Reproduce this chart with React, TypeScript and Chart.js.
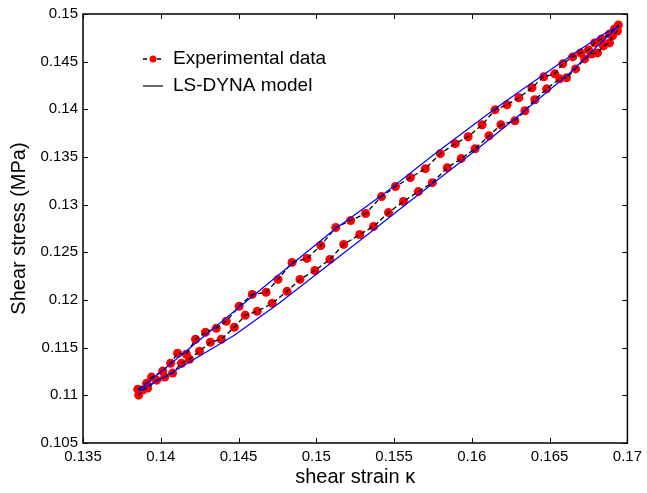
import React, { useEffect, useRef } from "react";
import { Chart, registerables } from "chart.js";

Chart.register(...registerables);

// ---- data ----
const upperStrain = [0.13852, 0.13909, 0.13941, 0.14012, 0.14063, 0.14108, 0.14165, 0.14223, 0.14287, 0.14357, 0.14421, 0.14504, 0.14588, 0.14677, 0.14754, 0.14844, 0.1494, 0.15029, 0.15125, 0.15221, 0.15317, 0.15419, 0.15509, 0.15605, 0.15701, 0.15797, 0.15893, 0.15976, 0.16066, 0.16149, 0.16226, 0.16302, 0.16386, 0.16462, 0.16533, 0.16584, 0.16648, 0.16699, 0.1675, 0.16789, 0.16833, 0.16885, 0.16917, 0.16942];
const upperStress = [0.11065, 0.11128, 0.11191, 0.11254, 0.11337, 0.11442, 0.11431, 0.11588, 0.11662, 0.11704, 0.11777, 0.11934, 0.12059, 0.1208, 0.12216, 0.12394, 0.12436, 0.12572, 0.1276, 0.12834, 0.12907, 0.13085, 0.1319, 0.13284, 0.13378, 0.13535, 0.1364, 0.13713, 0.13838, 0.13995, 0.14048, 0.14121, 0.14226, 0.14341, 0.14372, 0.14477, 0.1455, 0.14592, 0.14623, 0.14697, 0.14738, 0.14791, 0.14843, 0.14885];
const lowerStrain = [0.16936, 0.16904, 0.16885, 0.16846, 0.16808, 0.16769, 0.16725, 0.16667, 0.16609, 0.16565, 0.16481, 0.16405, 0.16341, 0.16277, 0.16187, 0.1611, 0.16021, 0.15931, 0.15842, 0.15746, 0.15656, 0.1556, 0.15464, 0.15368, 0.15279, 0.15176, 0.15087, 0.14991, 0.14895, 0.14812, 0.14716, 0.1462, 0.14543, 0.14473, 0.14389, 0.14319, 0.14249, 0.14185, 0.14133, 0.14076, 0.14025, 0.13973, 0.13916, 0.13884, 0.13858];
const lowerStress = [0.14822, 0.1477, 0.14697, 0.14665, 0.14592, 0.14581, 0.14529, 0.14424, 0.1433, 0.1432, 0.14215, 0.141, 0.13985, 0.1388, 0.13838, 0.13723, 0.13587, 0.13483, 0.13388, 0.13231, 0.13137, 0.13033, 0.12917, 0.12771, 0.12687, 0.12583, 0.12426, 0.1231, 0.12216, 0.12091, 0.11965, 0.11881, 0.1184, 0.11714, 0.11588, 0.11557, 0.11463, 0.11379, 0.11337, 0.11233, 0.11191, 0.11159, 0.11076, 0.11055, 0.11002];

const modelUpperStrain = [0.13858, 0.14185, 0.14543, 0.14824, 0.15125, 0.15419, 0.15771, 0.16149, 0.16405, 0.16661, 0.16859, 0.16936];
const modelUpperStress = [0.11055, 0.11494, 0.11976, 0.12352, 0.1275, 0.13095, 0.13545, 0.14006, 0.14299, 0.14592, 0.14801, 0.14864];
const modelLowerStrain = [0.16936, 0.16616, 0.16277, 0.16021, 0.15624, 0.15355, 0.15048, 0.1476, 0.14473, 0.14108, 0.13858];
const modelLowerStress = [0.14864, 0.14362, 0.13901, 0.13566, 0.13064, 0.12719, 0.12331, 0.11965, 0.1163, 0.11274, 0.11044];

const xTickValues = [0.135, 0.14, 0.145, 0.15, 0.155, 0.16, 0.165, 0.17];
const xTickLabels = ["0.135", "0.14", "0.145", "0.15", "0.155", "0.16", "0.165", "0.17"];
const yTickValues = [0.105, 0.11, 0.115, 0.12, 0.125, 0.13, 0.135, 0.14, 0.145, 0.15];
const yTickLabels = ["0.105", "0.11", "0.115", "0.12", "0.125", "0.13", "0.135", "0.14", "0.145", "0.15"];

const legendLabels = ["Experimental data", "LS-DYNA model"];
const xTitle = "shear strain \u03ba";
const yTitle = "Shear stress (MPa)";

const FONT = "'Liberation Sans', Arial, Helvetica, sans-serif";

const zip = (xs: number[], ys: number[]) => xs.map((x, i) => ({ x, y: ys[i] }));

const framePlugin = {
  id: "frameTicks",
  afterDraw(chart: any) {
    const { ctx, chartArea } = chart;
    const { left, right, top, bottom } = chartArea;
    const xs = chart.scales.x;
    const ys = chart.scales.y;
    ctx.save();
    ctx.strokeStyle = "#000";
    ctx.lineWidth = 1.5;
    ctx.strokeRect(left, top, right - left, bottom - top);
    ctx.lineWidth = 1;
    const tl = 5;
    ctx.beginPath();
    xTickValues.forEach((v) => {
      const p = Math.round(xs.getPixelForValue(v)) + 0.5;
      ctx.moveTo(p, bottom);
      ctx.lineTo(p, bottom - tl);
      ctx.moveTo(p, top);
      ctx.lineTo(p, top + tl);
    });
    yTickValues.forEach((v) => {
      const p = Math.round(ys.getPixelForValue(v)) + 0.5;
      ctx.moveTo(left, p);
      ctx.lineTo(left + tl, p);
      ctx.moveTo(right, p);
      ctx.lineTo(right - tl, p);
    });
    ctx.stroke();

    // legend
    const lx = left + 60;
    const tx = left + 90;
    const r1 = top + 45;
    const r2 = top + 72;
    ctx.strokeStyle = "#000";
    ctx.lineWidth = 1.3;
    ctx.setLineDash([4, 3]);
    ctx.beginPath();
    ctx.moveTo(lx, r1);
    ctx.lineTo(lx + 20, r1);
    ctx.stroke();
    ctx.setLineDash([]);
    ctx.fillStyle = "#ff0000";
    ctx.beginPath();
    ctx.arc(lx + 10, r1, 3.5, 0, Math.PI * 2);
    ctx.fill();
    ctx.strokeStyle = "#000";
    ctx.lineWidth = 1.2;
    ctx.beginPath();
    ctx.moveTo(lx, r2);
    ctx.lineTo(lx + 20, r2);
    ctx.stroke();
    ctx.fillStyle = "#000";
    ctx.font = `19px ${FONT}`;
    ctx.textAlign = "left";
    ctx.textBaseline = "middle";
    ctx.fillText(legendLabels[0], tx, r1);
    ctx.fillText(legendLabels[1], tx, r2);
    ctx.restore();
  },
};

export default function App() {
  const ref = useRef<HTMLCanvasElement | null>(null);
  useEffect(() => {
    if (!ref.current) return;
    const chart = new Chart(ref.current, {
      type: "scatter",
      data: {
        datasets: [
          {
            label: legendLabels[1],
            data: [...zip(modelUpperStrain, modelUpperStress), ...zip(modelLowerStrain, modelLowerStress)],
            showLine: true,
            borderColor: "#0000ff",
            borderWidth: 1.2,
            pointRadius: 0,
            tension: 0,
          },
          {
            label: legendLabels[0] + " line",
            data: [...zip(upperStrain, upperStress), ...zip(lowerStrain, lowerStress)],
            showLine: true,
            borderColor: "#000000",
            borderWidth: 1.3,
            borderDash: [5, 3],
            pointRadius: 0,
          },
          {
            label: legendLabels[0],
            data: [...zip(upperStrain, upperStress), ...zip(lowerStrain, lowerStress)],
            showLine: false,
            pointRadius: 4.5,
            pointBackgroundColor: "#ff0000",
            pointBorderWidth: 0,
            pointBorderColor: "#ff0000",
          },
        ],
      },
      options: {
        responsive: false,
        animation: false,
        events: [],
        layout: { padding: { top: 13, right: 17, left: 0, bottom: 0 } },
        plugins: { legend: { display: false }, tooltip: { enabled: false } },
        scales: {
          x: {
            type: "linear",
            min: 0.135,
            max: 0.17,
            afterBuildTicks: (s: any) => {
              s.ticks = xTickValues.map((v) => ({ value: v }));
            },
            afterFit: (s: any) => {
              s.height = 50;
            },
            grid: { display: false, drawTicks: false },
            border: { display: false },
            ticks: {
              color: "#000",
              padding: 5,
              maxRotation: 0,
              autoSkip: false,
              font: { family: FONT, size: 15 },
              callback: (_v: any, i: number) => xTickLabels[i],
            },
            title: {
              display: true,
              text: xTitle,
              color: "#000",
              font: { family: FONT, size: 20 },
              padding: { top: 0, bottom: 4 },
            },
          },
          y: {
            type: "linear",
            min: 0.105,
            max: 0.15,
            afterBuildTicks: (s: any) => {
              s.ticks = yTickValues.map((v) => ({ value: v }));
            },
            afterFit: (s: any) => {
              s.width = 83;
            },
            grid: { display: false, drawTicks: false },
            border: { display: false },
            ticks: {
              color: "#000",
              padding: 5,
              autoSkip: false,
              font: { family: FONT, size: 15 },
              callback: (_v: any, i: number) => yTickLabels[i],
            },
            title: {
              display: true,
              text: yTitle,
              color: "#000",
              font: { family: FONT, size: 20 },
              padding: { top: 7, bottom: 0 },
            },
          },
        },
      },
      plugins: [framePlugin],
    });
    return () => chart.destroy();
  }, []);
  return (
    <div style={{ position: "fixed", left: 0, top: 0, width: 647, height: 493, background: "#fff" }}>
      <canvas ref={ref} width={647} height={493} style={{ display: "block" }} />
    </div>
  );
}
